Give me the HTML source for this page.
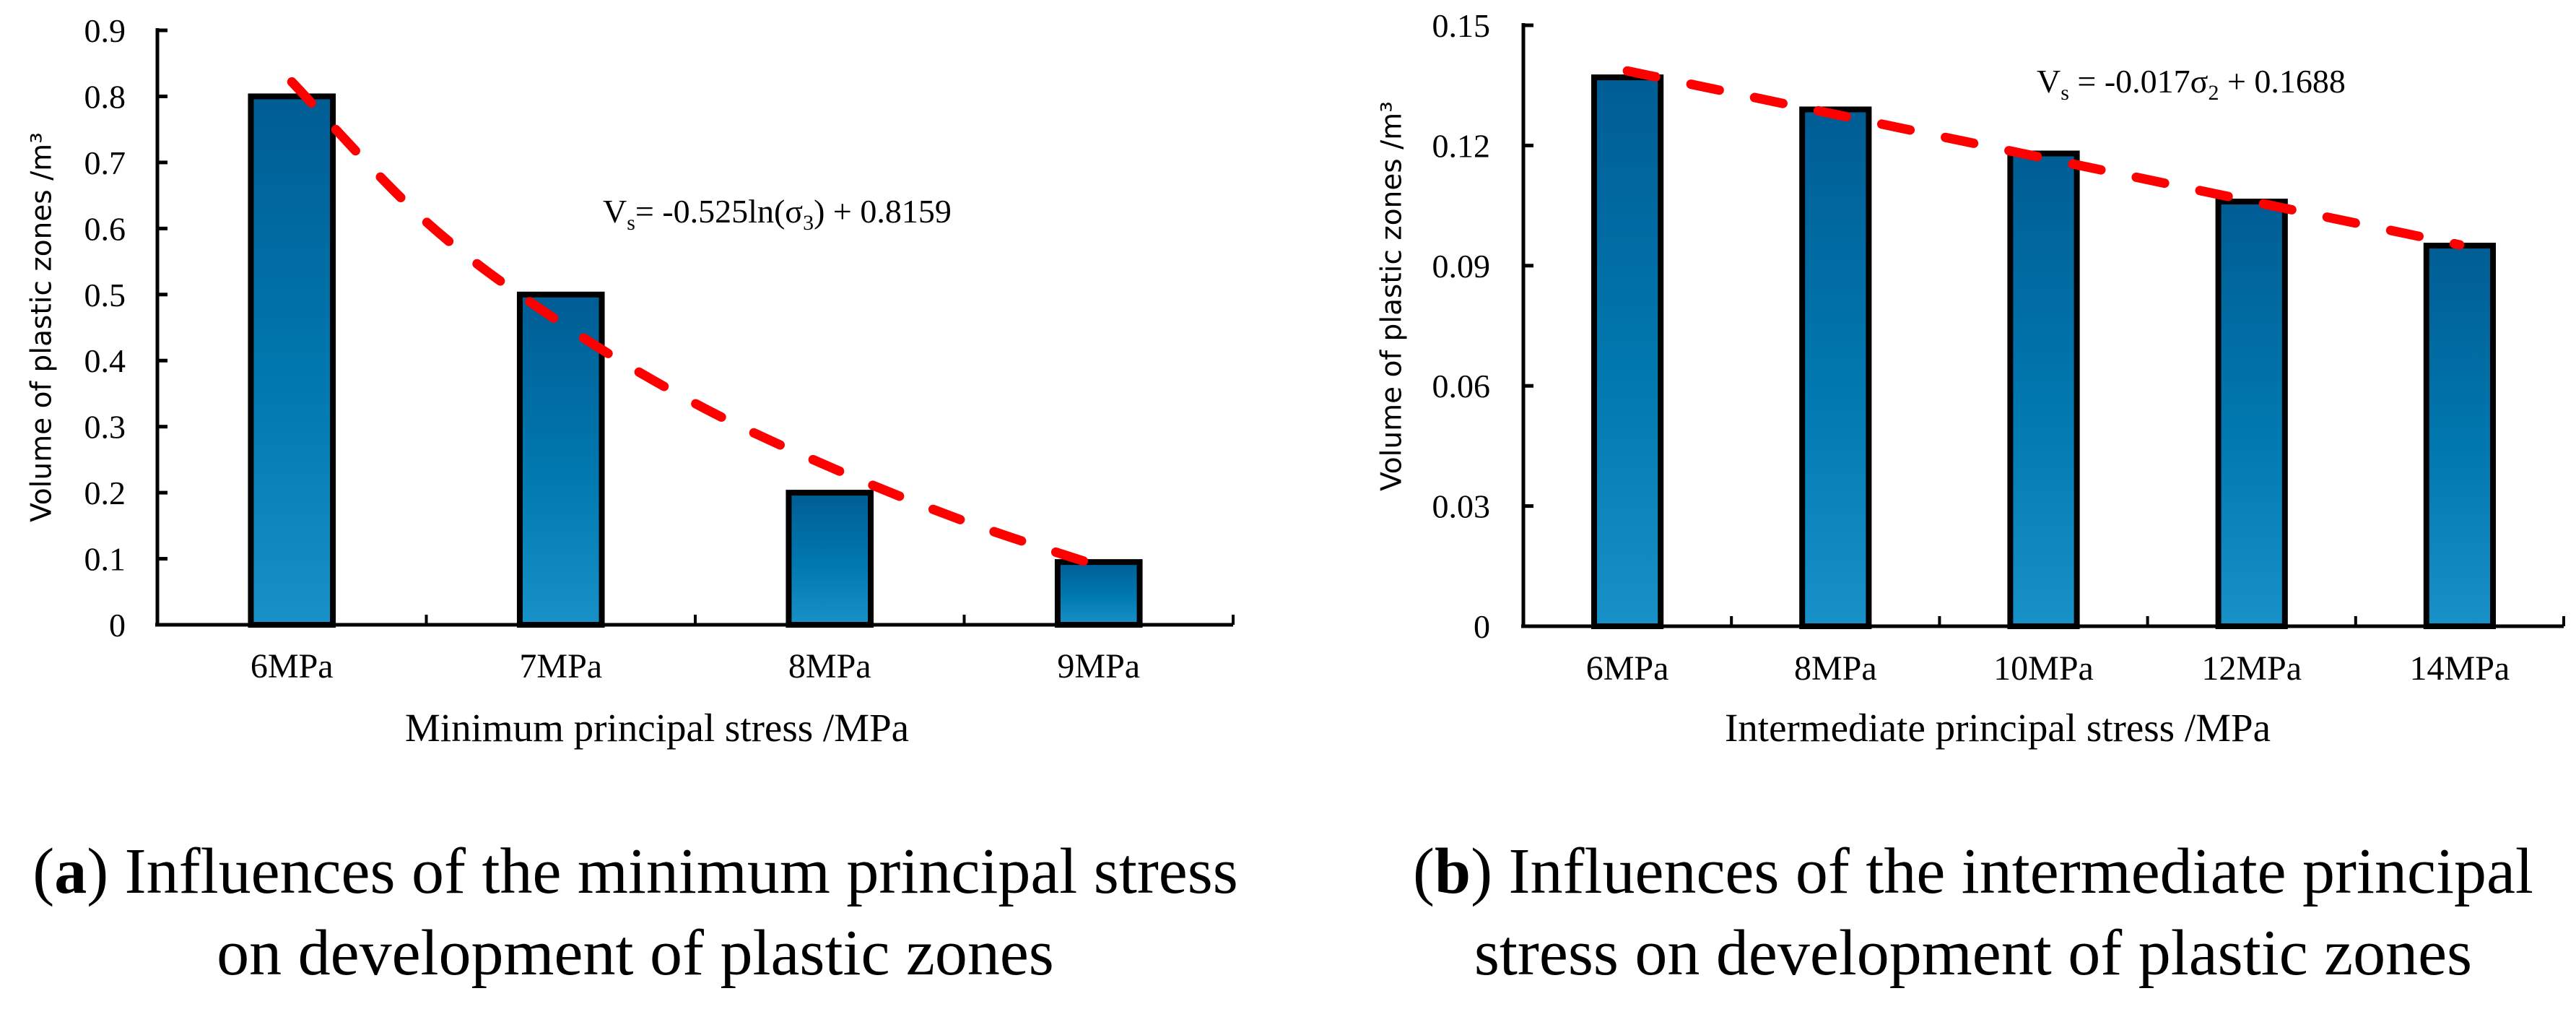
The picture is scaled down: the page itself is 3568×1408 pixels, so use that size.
<!DOCTYPE html>
<html><head><meta charset="utf-8"><style>
html,body{margin:0;padding:0;background:#fff}
svg{display:block}
text{font-family:"Liberation Serif",serif;fill:#000}
</style></head><body>
<svg id="fig" width="3568" height="1408" viewBox="0 0 3568 1408" xmlns="http://www.w3.org/2000/svg">
<defs>
<linearGradient id="barGrad" x1="0" y1="0" x2="0" y2="1">
<stop offset="0" stop-color="#005d94"/><stop offset="0.55" stop-color="#0079b0"/><stop offset="1" stop-color="#1791c8"/>
</linearGradient>
</defs>
<g id="chartA"></g>
<g id="chartB"></g>
<text x="60" y="453" style="font-family:'DejaVu Sans',sans-serif" font-size="39" text-anchor="middle" dominant-baseline="middle" transform="rotate(-90 60 453)">Volume of plastic zones /m³</text>
<text x="1930" y="410" style="font-family:'DejaVu Sans',sans-serif" font-size="39" text-anchor="middle" dominant-baseline="middle" transform="rotate(-90 1930 410)">Volume of plastic zones /m³</text>
<text x="910" y="1026" font-size="55" text-anchor="middle">Minimum principal stress /MPa</text>
<text x="2767" y="1026" font-size="55" text-anchor="middle">Intermediate principal stress /MPa</text>
<text x="835" y="308" font-size="46">V<tspan font-size="30" dy="10">s</tspan><tspan dy="-10">= -0.525ln(σ</tspan><tspan font-size="30" dy="10">3</tspan><tspan dy="-10">) + 0.8159</tspan></text>
<text x="2821" y="128" font-size="46">V<tspan font-size="30" dy="10">s</tspan><tspan dy="-10"> = -0.017σ</tspan><tspan font-size="30" dy="10">2</tspan><tspan dy="-10"> + 0.1688</tspan></text>
<text x="880" y="1236" font-size="90" text-anchor="middle">(<tspan font-weight="bold">a</tspan>) Influences of the minimum principal stress</text>
<text x="880" y="1349" font-size="90" text-anchor="middle">on development of plastic zones</text>
<text x="2733" y="1236" font-size="90" text-anchor="middle">(<tspan font-weight="bold">b</tspan>) Influences of the intermediate principal</text>
<text x="2733" y="1349" font-size="90" text-anchor="middle">stress on development of plastic zones</text>
</svg>
<script>
const catsA = ["6MPa","7MPa","8MPa","9MPa"];
const valsA = [0.8,0.5,0.2,0.095];
const ticksA = ["0","0.1","0.2","0.3","0.4","0.5","0.6","0.7","0.8","0.9"];
const trendXA = [0,0.5,1,1.5,2,2.5,3];
const trendYA = [0.822,0.61,0.457,0.335,0.239,0.157,0.089];

const catsB = ["6MPa","8MPa","10MPa","12MPa","14MPa"];
const valsB = [0.137,0.129,0.118,0.106,0.095];
const ticksB = ["0","0.03","0.06","0.09","0.12","0.15"];
const trendXB = [0,4];
const trendYB = [0.1386,0.0952];

const NS = "http://www.w3.org/2000/svg";
function mk(tag, attrs, parent){
  const e = document.createElementNS(NS, tag);
  for (const k in attrs) e.setAttribute(k, attrs[k]);
  parent.appendChild(e);
  return e;
}
function drawChart(g, cfg, cats, vals, ticks, tx, ty, suffix){
  const maxV = parseFloat(ticks[ticks.length-1]);
  const bw = (cfg.x1 - cfg.x0) / cats.length;
  const xs = i => cfg.x0 + bw*(i+0.5);
  const ys = v => cfg.yb - (v/maxV)*(cfg.yb - cfg.yt);
  vals.forEach((v,i)=>{
    const w = bw*cfg.barFrac;
    const r = mk("rect",{x:xs(i)-w/2,y:ys(v),width:w,height:cfg.yb-ys(v),fill:"url(#barGrad)",stroke:"#000","stroke-width":8},g);
    
    
    const t = mk("text",{x:xs(i),y:cfg.labelY,"font-size":48,"text-anchor":"middle"},g);
    t.textContent = cats[i];
    
    
  });
  const ya = mk("line",{x1:cfg.x0,y1:cfg.yt-3,x2:cfg.x0,y2:cfg.yb,stroke:"#000","stroke-width":5},g);
  
  
  const xa = mk("line",{x1:cfg.x0-3,y1:cfg.yb,x2:cfg.x1,y2:cfg.yb,stroke:"#000","stroke-width":5},g);
  
  
  for (let i=1;i<=cats.length;i++){
    const xt = cfg.x0 + bw*i;
    const tk = mk("line",{x1:xt,y1:cfg.yb,x2:xt,y2:cfg.yb-14,stroke:"#000","stroke-width":4},g);
    
    
  }
  ticks.forEach(tl=>{
    const y = ys(parseFloat(tl));
    const tk = mk("line",{x1:cfg.x0,y1:y,x2:cfg.x0+14,y2:y,stroke:"#000","stroke-width":5},g);
    
    
    const t = mk("text",{x:cfg.tickX,y:y+16,"font-size":46,"text-anchor":"end"},g);
    t.textContent = tl;
    
    
  });
  const P = tx.map((x,i)=>[xs(x),ys(ty[i])]);
  let s = "M"+P[0][0]+","+P[0][1];
  for (let i=0;i<P.length-1;i++){
    const p0=P[Math.max(0,i-1)],p1=P[i],p2=P[i+1],p3=P[Math.min(P.length-1,i+2)];
    const c1=[p1[0]+(p2[0]-p0[0])/6,p1[1]+(p2[1]-p0[1])/6];
    const c2=[p2[0]-(p3[0]-p1[0])/6,p2[1]-(p3[1]-p1[1])/6];
    s+=" C"+c1[0]+","+c1[1]+" "+c2[0]+","+c2[1]+" "+p2[0]+","+p2[1];
  }
  const path = mk("path",{d:s},g);
  path.setAttribute("fill","none");
  path.setAttribute("stroke","#ff0000");
  path.setAttribute("stroke-width","13");
  path.setAttribute("stroke-linecap","round");
  path.setAttribute("stroke-dasharray","40 50");
  
  
}
drawChart(document.getElementById("chartA"),
  {x0:218,x1:1708,yt:42,yb:865,barFrac:0.305,tickX:174,labelY:938},
  catsA, valsA, ticksA, trendXA, trendYA, "a");
drawChart(document.getElementById("chartB"),
  {x0:2110,x1:3551,yt:35,yb:867,barFrac:0.32,tickX:2064,labelY:941},
  catsB, valsB, ticksB, trendXB, trendYB, "b");
</script>
</body></html>
